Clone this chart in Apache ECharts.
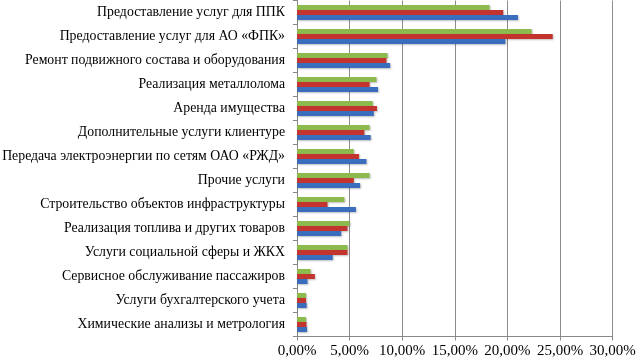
<!DOCTYPE html>
<html>
<head>
<meta charset="utf-8">
<script src="https://cdn.jsdelivr.net/npm/echarts@6/dist/echarts.min.js"></script>
<style>
  html, body { margin: 0; padding: 0; background: #fff; }
  #chart { width: 636px; height: 361px; }
</style>
</head>
<body>
<div id="chart"></div>
<script>
// categories, top to bottom
const categories = [
  'Предоставление услуг для ППК',
  'Предоставление услуг для АО «ФПК»',
  'Ремонт подвижного состава и оборудования',
  'Реализация металлолома',
  'Аренда имущества',
  'Дополнительные услуги клиентуре',
  'Передача электроэнергии по сетям ОАО «РЖД»',
  'Прочие услуги',
  'Строительство объектов инфраструктуры',
  'Реализация топлива и других товаров',
  'Услуги социальной сферы и ЖКХ',
  'Сервисное обслуживание пассажиров',
  'Услуги бухгалтерского учета',
  'Химические анализы и метрология'
];
// shares, %
const greenVals = [18.3, 22.3, 8.6, 7.55, 7.2, 6.9, 5.4, 6.9, 4.5, 5.0, 4.8, 1.3, 0.86, 0.86];
const redVals   = [19.6, 24.3, 8.5, 6.9, 7.6, 6.4, 5.9, 5.4, 2.9, 4.8, 4.8, 1.7, 0.86, 0.9];
const blueVals  = [21.0, 19.8, 8.85, 7.7, 7.3, 7.0, 6.6, 6.0, 5.6, 4.2, 3.4, 1.0, 0.92, 0.95];
const xTicks = [0, 5, 10, 15, 20, 25, 30];

const chart = echarts.init(document.getElementById('chart'));

function bar(name, data, color) {
  return {
    name: name,
    type: 'bar',
    data: data,
    barWidth: 5,
    barGap: '0%',
    barCategoryGap: '36%',
    itemStyle: {
      color: color,
      shadowColor: 'rgba(0,0,0,0.25)',
      shadowBlur: 2,
      shadowOffsetX: 1,
      shadowOffsetY: 1
    }
  };
}

chart.setOption({
  animation: false,
  grid: { left: 297, top: 0.5, width: 315.7, height: 336, outerBoundsMode: 'none', containLabel: false },
  xAxis: {
    type: 'value',
    min: xTicks[0],
    max: xTicks[xTicks.length - 1],
    interval: 5,
    axisLine: { show: true, lineStyle: { color: '#888', width: 1 } },
    axisTick: { show: true, length: 4, lineStyle: { color: '#888' } },
    splitLine: { show: true, lineStyle: { color: '#8c8c8c', width: 1 } },
    axisLabel: {
      color: '#000',
      fontFamily: 'Liberation Serif',
      fontSize: 15,
      margin: 7,
      formatter: v => v.toFixed(2).replace('.', ',') + '%'
    }
  },
  yAxis: {
    type: 'category',
    inverse: true,
    data: categories,
    axisLine: { show: true, lineStyle: { color: '#888', width: 1 } },
    axisTick: { show: true, length: 4, lineStyle: { color: '#888' } },
    axisLabel: {
      color: '#000',
      fontFamily: 'Liberation Serif',
      fontSize: 13.8,
      margin: 12
    }
  },
  series: [
    bar('green', greenVals, '#8dba4c'),
    bar('red', redVals, '#c3342f'),
    bar('blue', blueVals, '#3b6dbf')
  ]
});
</script>
</body>
</html>
